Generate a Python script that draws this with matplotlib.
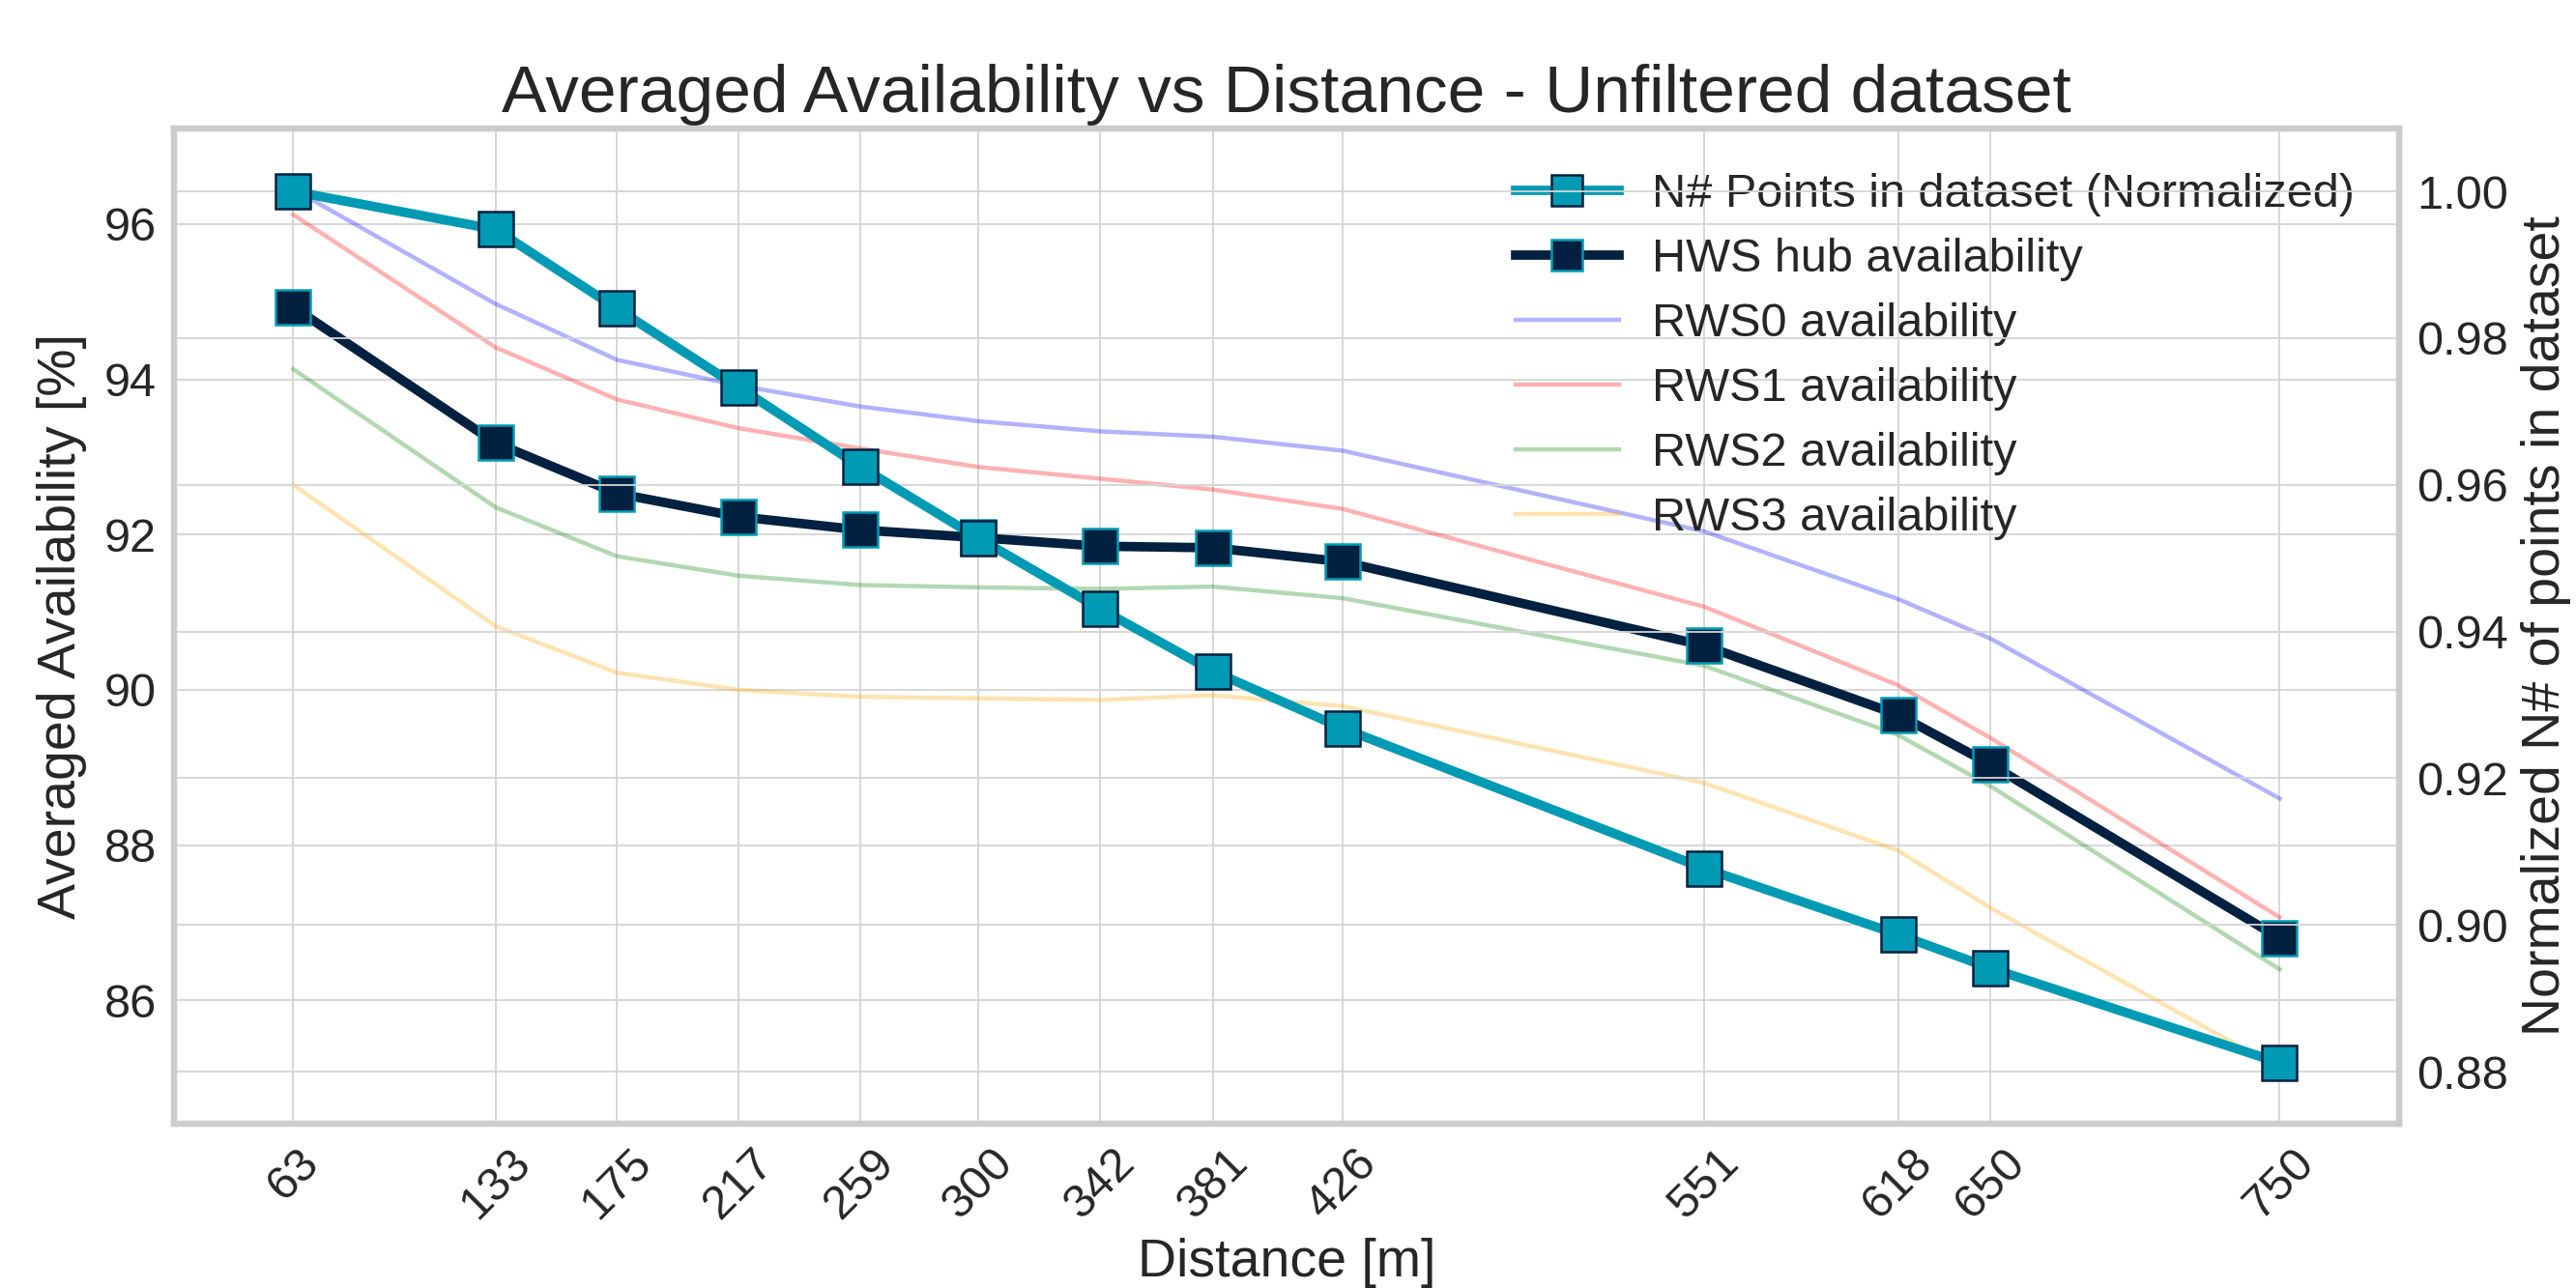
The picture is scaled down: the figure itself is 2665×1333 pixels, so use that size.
import numpy as np
import matplotlib
matplotlib.use('Agg')
import matplotlib.pyplot as plt

# ── Data ──────────────────────────────────────────────────────────────────────
distance = [63, 133, 175, 217, 259, 300, 342, 381, 426, 551, 618, 650, 750]

points_norm = [1.000, 0.9948, 0.9840, 0.9733, 0.9625, 0.9527, 0.9431,
               0.9346, 0.9268, 0.9077, 0.8987, 0.8941, 0.8812]

hws_avail = [94.93, 93.18, 92.53, 92.23, 92.06, 91.96, 91.85, 91.83, 91.65,
             90.57, 89.68, 89.04, 86.80]
rws0_avail = [96.45, 94.97, 94.25, 93.92, 93.65, 93.46, 93.33, 93.26, 93.08,
              92.04, 91.17, 90.66, 88.60]
rws1_avail = [96.12, 94.41, 93.74, 93.37, 93.11, 92.87, 92.72, 92.58, 92.33,
              91.07, 90.06, 89.38, 87.07]
rws2_avail = [94.13, 92.35, 91.72, 91.47, 91.35, 91.32, 91.30, 91.33, 91.18,
              90.31, 89.42, 88.76, 86.40]
rws3_avail = [92.64, 90.82, 90.22, 90.00, 89.91, 89.89, 89.87, 89.93, 89.79,
              88.80, 87.93, 87.19, 85.12]

left_ticks = [86, 88, 90, 92, 94, 96]
right_ticks = [0.88, 0.90, 0.92, 0.94, 0.96, 0.98, 1.00]

# ── Colours ───────────────────────────────────────────────────────────────────
COL_TEAL = '#009ab4'
COL_NAVY = '#02203f'
COL_GRID = '#d4d4d4'
COL_SPINE = '#cccccc'
COL_TEXT = '#262626'

plt.rcParams['font.family'] = ['Liberation Sans', 'DejaVu Sans']
plt.rcParams['text.color'] = COL_TEXT
plt.rcParams['axes.labelcolor'] = COL_TEXT
plt.rcParams['xtick.color'] = COL_TEXT
plt.rcParams['ytick.color'] = COL_TEXT

fig = plt.figure(figsize=(26.65, 13.33), dpi=100)
ax = fig.add_axes([0.0675, 0.1275, 0.8638, 0.7727])
ax2 = ax.twinx()

# ── Availability lines (left axis) ────────────────────────────────────────────
ax.plot(distance, rws0_avail, color='blue', alpha=0.3, lw=3.2, label='RWS0 availability')
ax.plot(distance, rws1_avail, color='red', alpha=0.3, lw=3.2, label='RWS1 availability')
ax.plot(distance, rws2_avail, color='green', alpha=0.3, lw=3.2, label='RWS2 availability')
ax.plot(distance, rws3_avail, color='orange', alpha=0.3, lw=3.2, label='RWS3 availability')
ax.plot(distance, hws_avail, color=COL_NAVY, lw=7, marker='s', ms=26,
        mfc=COL_NAVY, mec=COL_TEAL, mew=1.8, label='HWS hub availability', zorder=4)

# ── Normalised point count (right axis) ───────────────────────────────────────
ax2.plot(distance, points_norm, color=COL_TEAL, lw=7, marker='s', ms=26,
         mfc=COL_TEAL, mec=COL_NAVY, mew=1.8, label='N# Points in dataset (Normalized)')

ax.set_xlim(21.7, 791.3)
ax.set_ylim(84.41, 97.23)
ax2.set_ylim(0.87289, 1.00856)

ax.set_xticks(distance)
ax.set_xticklabels([str(d) for d in distance], rotation=45)
ax.set_yticks(left_ticks)
ax2.set_yticks(right_ticks)
ax2.set_yticklabels([f'{v:.2f}' for v in right_ticks])

for a in (ax, ax2):
    a.grid(True, color=COL_GRID, lw=1.3)
    a.set_axisbelow(True)
    a.tick_params(axis='both', length=0, pad=13, labelsize=35)
    for s in a.spines.values():
        s.set_color(COL_SPINE)
        s.set_linewidth(4.5)
ax2.xaxis.grid(False)

ax.set_title('Averaged Availability vs Distance - Unfiltered dataset',
             fontsize=50, pad=12)
ax.set_xlabel('Distance [m]', fontsize=40)
ax.set_ylabel('Averaged Availability [%]', fontsize=40)
ax2.set_ylabel('Normalized N# of points in dataset', fontsize=40)
ax.xaxis.set_label_coords(0.5, -0.115)
ax.yaxis.set_label_coords(-0.039, 0.5)
ax2.yaxis.set_label_coords(1.0547, 0.5)

# legend gathers both axes, drawn under the twin axis grid like the original
h1, l1 = ax.get_legend_handles_labels()
h2, l2 = ax2.get_legend_handles_labels()
order = [4, 0, 1, 2, 3]
handles = h2 + [h1[i] for i in order]
labels = l2 + [l1[i] for i in order]
ax.legend(handles, labels, loc='upper right', fontsize=35, frameon=False,
          labelspacing=0.45, handlelength=2.2, handletextpad=0.7,
          borderaxespad=0.55, numpoints=1, markerscale=0.9)

fig.savefig('out.png', dpi=100)
